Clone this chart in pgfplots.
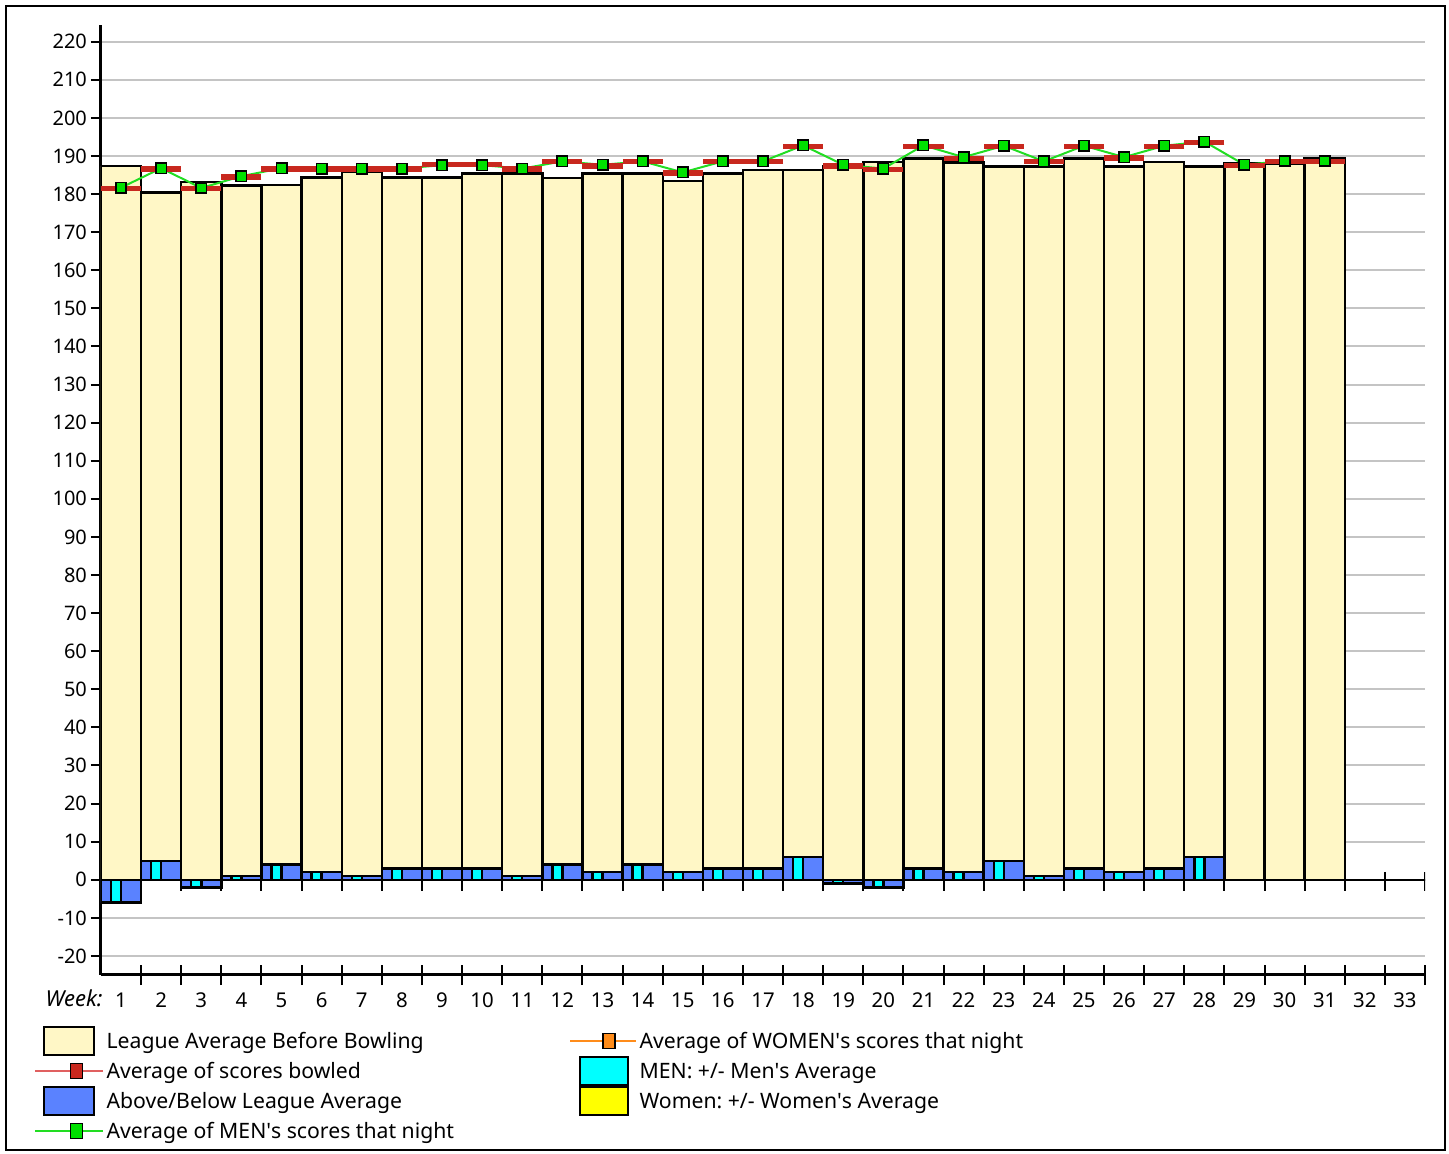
\documentclass[border=0pt]{standalone}
\usepackage{fontspec}
\setmainfont{Noto Sans}
\usepackage{pgfplots}
\pgfplotsset{compat=1.18}
\usepackage{pgfplotstable}
\frenchspacing

\definecolor{cream}{HTML}{FFF7C6}
\definecolor{barblue}{HTML}{5A82FF}
\definecolor{mcyan}{RGB}{0,255,255}
\definecolor{myellow}{RGB}{255,255,0}
\definecolor{dashred}{HTML}{C8281E}
\definecolor{lgreen}{HTML}{22DD22}
\definecolor{mgreen}{HTML}{00E000}
\definecolor{gridgray}{HTML}{C4C4C4}
\definecolor{lred}{HTML}{E06060}
\definecolor{orng}{HTML}{FF8C1A}

\pgfplotstableread{
week league diff men avg mennight
1  187.4 -6  -6  181.5 181.7
2  180.4  5   5  186.6 186.8
3  183.2 -2  -2  181.5 181.6
4  182.3  1   1  184.5 184.7
5  182.4  4   4  186.6 186.8
6  184.4  2   2  186.6 186.7
7  185.9  1   1  186.6 186.7
8  184.4  3   3  186.6 186.7
9  184.4  3   3  187.7 187.6
10 185.4  3   3  187.7 187.6
11 185.4  1   1  186.6 186.7
12 184.3  4   4  188.5 188.6
13 185.4  2   2  187.4 187.7
14 185.4  4   4  188.5 188.6
15 183.4  2   2  185.5 185.7
16 185.4  3   3  188.5 188.6
17 186.4  3   3  188.5 188.6
18 186.4  6   6  192.5 192.8
19 187.2 -1  -1  187.4 187.7
20 188.4 -2  -2  186.5 186.7
21 189.4  3   3  192.5 192.8
22 188.3  2   2  189.4 189.7
23 187.3  5   5  192.5 192.7
24 187.3  1   1  188.5 188.6
25 189.4  3   3  192.5 192.7
26 187.3  2   2  189.5 189.7
27 188.4  3   3  192.5 192.7
28 187.3  6   6  193.6 193.8
29 188.2 nan nan 187.5 187.7
30 188.0 nan nan 188.6 188.7
31 189.4 nan nan 188.5 188.7
32 0     nan nan nan   nan
33 0     nan nan nan   nan
}\datatable

\pgfplotsset{
  common/.style={
    at={(0,0)}, anchor=south west,
    scale only axis, width=662pt, height=475pt,
    xmin=0.5, xmax=33.5, ymin=-25, ymax=224.4,
    legend style={draw=none, fill=none, inner sep=0pt, outer sep=0pt,
      row sep=0pt, anchor=north west, cells={anchor=west},
      font=\fontsize{10.6pt}{12pt}\selectfont,
      nodes={inner sep=0pt, text height=11.25pt, text depth=3.75pt},
      /tikz/every odd column/.append style={column sep=1.3pt}},
  }
}

\begin{document}
\begin{tikzpicture}
\useasboundingbox (-50.5pt,-89.5pt) rectangle (674pt,487.5pt);
\draw[line width=1.2pt] (-47.5pt,-87.5pt) rectangle (672pt,484.5pt);

% main axis: y axis, grid, data
\begin{axis}[common,
  axis y line*=left, axis x line=none,
  y axis line style={-, line width=1.5pt},
  ytick={-20,-10,...,220},
  ymajorgrids, grid style={gridgray, line width=1pt},
  tick align=outside, major tick length=5pt,
  tick style={black, line width=1pt},
  /pgf/number format/assume math mode=true,
  yticklabel style={font=\fontsize{10pt}{12pt}\selectfont, xshift=1.5pt},
  legend style={at={(-0.0506,-0.0537)}},
]
\draw[line width=1.2pt] (axis cs:0.5,0) -- (axis cs:33.5,0);
\pgfplotsinvokeforeach{1.5,2.5,...,33.5}{
  \draw[line width=1pt] ([yshift=4pt]axis cs:#1,0) -- ([yshift=-5.5pt]axis cs:#1,0);
}
\addplot[forget plot, ybar, bar width=1, bar shift=0, fill=cream, draw=black, line width=1.2pt]
  table[x=week, y=league]{\datatable};
\addplot[forget plot, ybar, bar width=1, bar shift=0, fill=barblue, draw=black, line width=1.2pt]
  table[x=week, y=diff]{\datatable};
\addplot[forget plot, ybar, bar width=0.25, bar shift=-0.125, fill=mcyan, draw=black, line width=1.2pt]
  table[x=week, y=men]{\datatable};
\addplot[forget plot, only marks, mark=-, mark size=10.03pt,
  mark options={line width=2.7pt, draw=dashred}]
  table[x=week, y=avg]{\datatable};
\addplot[forget plot, lgreen, line width=1pt, mark=square*, mark size=2.6pt,
  mark options={fill=mgreen, draw=black, line width=0.8pt, solid}]
  table[x=week, y=mennight]{\datatable};

\addlegendimage{legend image code/.code={\draw[fill=cream,draw=black,line width=1pt] (4.7pt,-7pt) rectangle (29.7pt,7pt);}}
\addlegendentry{League Average Before Bowling}
\addlegendimage{legend image code/.code={\draw[lred,line width=1pt] (0pt,0pt) -- (34pt,0pt);
  \draw[fill=dashred,draw=black,line width=0.8pt] (17.7pt,-3.7pt) rectangle (23.7pt,3.7pt);}}
\addlegendentry{Average of scores bowled}
\addlegendimage{legend image code/.code={\draw[fill=barblue,draw=black,line width=1pt] (4.7pt,-7pt) rectangle (29.7pt,7pt);}}
\addlegendentry{Above/Below League Average}
\addlegendimage{legend image code/.code={\draw[lgreen,line width=1pt] (0pt,0pt) -- (34pt,0pt);
  \draw[fill=mgreen,draw=black,line width=0.8pt] (17.7pt,-3.7pt) rectangle (23.7pt,3.7pt);}}
\addlegendentry{Average of MEN\textquotesingle s scores that night}
\end{axis}

% overlay axis: bottom x axis with week labels
\begin{axis}[common, clip=false,
  hide y axis, axis x line*=bottom,
  x axis line style={-, line width=1.5pt},
  xtick={1.5,2.5,...,33.5},
  xticklabels={1,2,3,4,5,6,7,8,9,10,11,12,13,14,15,16,17,18,19,20,21,22,23,24,25,26,27,28,29,30,31,32,33},
  xticklabel style={font=\fontsize{10.2pt}{12pt}\selectfont, anchor=base, inner sep=0pt, xshift=-10.03pt, yshift=-11pt},
  tick align=center, major tick length=10pt,
  tick style={black, line width=1pt},
  legend style={at={(0.3535,-0.0537)}},
]
\node[anchor=base east, inner sep=0pt, font=\fontsize{11pt}{12pt}\selectfont\itshape]
  at ([xshift=1pt,yshift=-16pt]axis cs:0.5,-25) {Week:};
\addlegendimage{legend image code/.code={\draw[orng,line width=1pt] (0pt,0pt) -- (33pt,0pt);
  \draw[fill=orng,draw=black,line width=0.8pt] (16.5pt,-3.7pt) rectangle (22.5pt,3.7pt);}}
\addlegendentry{Average of WOMEN\textquotesingle s scores that night}
\addlegendimage{legend image code/.code={\draw[fill=mcyan,draw=black,line width=1pt] (5pt,-7pt) rectangle (29pt,7pt);}}
\addlegendentry{MEN: +/- Men\textquotesingle s Average}
\addlegendimage{legend image code/.code={\draw[fill=myellow,draw=black,line width=1pt] (5pt,-7pt) rectangle (29pt,7pt);}}
\addlegendentry{Women: +/- Women\textquotesingle s Average}
\end{axis}
\end{tikzpicture}
\end{document}
